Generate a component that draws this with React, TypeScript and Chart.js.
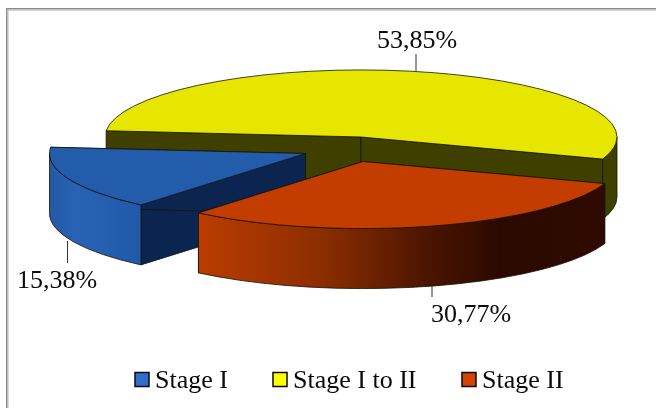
import React, { useEffect, useRef } from "react";
import { Chart, registerables } from "chart.js";

Chart.register(...registerables);

// Chart data
const stages = ["Stage I", "Stage I to II", "Stage II"];
const shares = [15.38, 53.85, 30.77];

// Flat colours of each wedge
const topColors = ["#235cab", "#e6e600", "#c33c00"];
const cutColors = ["#0b2550", "#3f3f00", "#2e0a00"];
const swatchColors = ["#2f6fcb", "#ffff00", "#d44500"];

// Painted back to front: the large wedge first, the front one last
const paintOrder = [1, 0, 2];

// 3D projection of the pie
const CENTER = { x: 361, y: 137 };
const RADIUS = 256;
const TILT = 0.262;
const DEPTH = 60;
const EXPLODE = [
  { x: -55.5, y: 16.5 },
  { x: 0, y: 0 },
  { x: 2, y: 24.5 },
];

// Where each percentage sits and the leader tying it to its wedge
const CALLOUTS = [
  { textX: 17, textY: 288, x: 67.5, y1: 241, y2: 263 },
  { textX: 377, textY: 48, x: 416, y1: 54, y2: 71 },
  { textX: 431, textY: 322, x: 432, y1: 286, y2: 297 },
];

// Legend layout
const LEGEND_SWATCH_X = [135, 273, 462];
const LEGEND_TEXT_X = [155, 293, 482];
const LEGEND_Y = 372.5;
const LEGEND_BASELINE = 387.5;
const FONT = '26px "Liberation Serif"';
const OUTLINE = "#14140a";
const INK = "#0a0a0a";

function wallFill(ctx: CanvasRenderingContext2D, index: number, left: number, right: number) {
  const g = ctx.createLinearGradient(left, 0, right, 0);
  if (index === 0) {
    g.addColorStop(0, "#2459a6");
    g.addColorStop(0.3, "#2863b4");
    g.addColorStop(1, "#2159a8");
    return g;
  }
  if (index === 2) {
    g.addColorStop(0, "#bb3c00");
    g.addColorStop(0.3, "#8c2e00");
    g.addColorStop(0.57, "#4a1400");
    g.addColorStop(0.74, "#2c0900");
    g.addColorStop(1, "#2e0a00");
    return g;
  }
  return cutColors[index];
}

// Front-facing parts of a rim running from a to b, angles in radians
function frontRanges(a: number, b: number): [number, number][] {
  const out: [number, number][] = [];
  for (let k = -1; k <= 2; k++) {
    const lo = Math.max(a, k * 2 * Math.PI);
    const hi = Math.min(b, k * 2 * Math.PI + Math.PI);
    if (hi > lo) out.push([lo, hi]);
  }
  return out;
}

const pie3d = {
  id: "pie3d",
  beforeDatasetsDraw(chart: any) {
    const { ctx } = chart;
    const arcs = chart.getDatasetMeta(0).data;
    ctx.save();
    ctx.lineWidth = 0.8;
    ctx.strokeStyle = OUTLINE;
    ctx.lineJoin = "round";

    for (const i of paintOrder) {
      const arc = arcs[i];
      const { startAngle, endAngle, outerRadius: r } = arc;
      const cx = CENTER.x + EXPLODE[i].x;
      const cy = CENTER.y + EXPLODE[i].y;
      const ry = r * TILT;

      // Radial cut faces
      for (const a of [startAngle, endAngle]) {
        const px = cx + Math.cos(a) * r;
        const py = cy + Math.sin(a) * ry;
        ctx.beginPath();
        ctx.moveTo(cx, cy);
        ctx.lineTo(px, py);
        ctx.lineTo(px, py + DEPTH);
        ctx.lineTo(cx, cy + DEPTH);
        ctx.closePath();
        ctx.fillStyle = cutColors[i];
        ctx.fill();
        ctx.stroke();
      }

      // Curved outer wall
      for (const [lo, hi] of frontRanges(startAngle, endAngle)) {
        const xa = cx + Math.cos(lo) * r;
        const xb = cx + Math.cos(hi) * r;
        ctx.beginPath();
        ctx.ellipse(cx, cy, r, ry, 0, lo, hi);
        ctx.ellipse(cx, cy + DEPTH, r, ry, 0, hi, lo, true);
        ctx.closePath();
        ctx.fillStyle = wallFill(ctx, i, Math.min(xa, xb), Math.max(xa, xb));
        ctx.fill();
        ctx.stroke();
      }

      // Top surface: the library's arc element under a flattening transform
      ctx.save();
      ctx.translate(cx, cy);
      ctx.scale(1, TILT);
      ctx.translate(-arc.x, -arc.y);
      arc.draw(ctx);
      ctx.restore();

      ctx.beginPath();
      ctx.moveTo(cx, cy);
      ctx.ellipse(cx, cy, r, ry, 0, startAngle, endAngle);
      ctx.closePath();
      ctx.stroke();
    }
    ctx.restore();
    return false;
  },
  afterDraw(chart: any) {
    const { ctx } = chart;
    ctx.save();

    // Frame along the top and left of the picture
    ctx.fillStyle = "#8f8f8f";
    ctx.fillRect(6, 8, 650, 1.5);
    ctx.fillRect(6, 8, 1.5, 400);
    ctx.fillStyle = "#b4b4b4";
    ctx.fillRect(7.5, 9.5, 648.5, 1);
    ctx.fillRect(7.5, 9.5, 1, 398.5);

    ctx.font = FONT;
    ctx.textAlign = "left";
    ctx.textBaseline = "alphabetic";

    // Percentages with their leaders
    shares.forEach((v, i) => {
      const c = CALLOUTS[i];
      ctx.strokeStyle = "#333333";
      ctx.lineWidth = 1;
      ctx.beginPath();
      ctx.moveTo(c.x, c.y1);
      ctx.lineTo(c.x, c.y2);
      ctx.stroke();
      ctx.fillStyle = INK;
      ctx.fillText(`${v.toFixed(2).replace(".", ",")}%`, c.textX, c.textY);
    });

    // Legend row
    stages.forEach((name, i) => {
      ctx.fillStyle = swatchColors[i];
      ctx.strokeStyle = INK;
      ctx.lineWidth = 1.5;
      ctx.fillRect(LEGEND_SWATCH_X[i], LEGEND_Y, 14, 14);
      ctx.strokeRect(LEGEND_SWATCH_X[i], LEGEND_Y, 14, 14);
      ctx.fillStyle = INK;
      ctx.fillText(name, LEGEND_TEXT_X[i], LEGEND_BASELINE);
    });
    ctx.restore();
  },
};

export default function App() {
  const ref = useRef<HTMLCanvasElement>(null);

  useEffect(() => {
    const chart = new Chart(ref.current!, {
      type: "pie",
      data: {
        labels: stages,
        datasets: [{ data: shares, backgroundColor: topColors, borderWidth: 0 }],
      },
      options: {
        animation: false,
        responsive: false,
        radius: RADIUS,
        rotation: 220,
        layout: { padding: 0 },
        plugins: { legend: { display: false }, tooltip: { enabled: false } },
      },
      plugins: [pie3d],
    } as any);
    return () => chart.destroy();
  }, []);

  return (
    <div style={{ position: "absolute", left: 0, top: 0, width: 656, height: 408, background: "#ffffff" }}>
      <canvas ref={ref} width={656} height={408} style={{ display: "block" }} />
    </div>
  );
}
